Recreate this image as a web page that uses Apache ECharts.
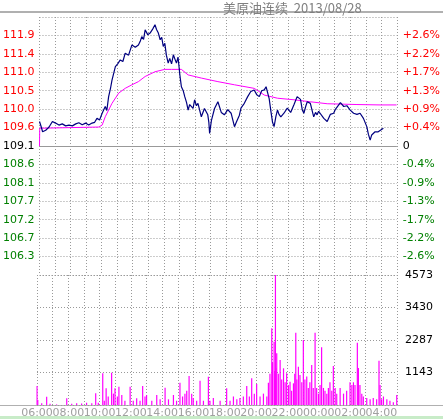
<!DOCTYPE html>
<html><head><meta charset="utf-8">
<script src="https://cdn.jsdelivr.net/npm/echarts@6/dist/echarts.min.js"></script>
<style>html,body{margin:0;padding:0;background:#fff}#c{width:443px;height:419px}</style>
</head><body><div id="c"></div>
<script>
const title = '美原油连续  2013/08/28';
const leftLabels = ['', '106.3','106.7','107.2','107.7','108.1','108.6','109.1','109.6','110.0','110.5','111.0','111.4','111.9',''];
const rightLabels = ['', '-2.6%','-2.2%','-1.7%','-1.3%','-0.9%','-0.4%','0','+0.4%','+0.9%','+1.3%','+1.7%','+2.2%','+2.6%',''];
const volLabels = ['', '1143','2287','3430','4573'];
const timeLabels = ['06:00','08:00','10:00','12:00','14:00','16:00','18:00','20:00','22:00','00:00','02:00','04:00'];
const priceMinutes = [0,6,12,24,37,50,62,75,88,101,114,127,140,152,165,178,190,203,213,222,232,242,248,254,260,267,274,280,287,293,302,312,322,331,344,357,370,382,389,395,402,408,418,427,437,446,452,459,466,472,478,484,490,497,503,510,517,523,529,535,539,542,545,548,555,561,568,574,580,587,593,599,606,612,618,625,637,650,654,657,664,676,689,702,714,727,740,753,760,766,772,778,791,804,816,829,839,849,858,868,875,881,887,893,900,906,913,919,925,932,944,957,970,983,995,1008,1015,1021,1028,1034,1046,1059,1066,1072,1078,1085,1098,1111,1123,1136,1142,1149,1162,1175,1187,1200,1213,1226,1232,1238,1251,1264,1270,1277,1283,1289,1296,1302,1308,1315,1328,1341,1350,1360,1370,1379];
const priceValues = [109.72,109.60,109.46,109.50,109.58,109.72,109.68,109.63,109.66,109.61,109.63,109.61,109.66,109.69,109.64,109.68,109.63,109.68,109.70,109.80,109.76,109.93,109.88,110.10,110.00,110.35,110.55,110.77,110.95,111.11,111.18,111.28,111.24,111.45,111.40,111.66,111.60,111.66,111.75,111.87,111.80,112.04,111.92,111.96,112.06,112.17,112.05,111.96,111.79,111.85,111.62,111.70,111.40,111.20,111.32,111.18,111.41,111.30,111.20,111.35,111.10,110.90,110.75,110.60,110.50,110.35,110.20,110.01,110.15,110.18,110.05,110.27,110.12,110.18,110.02,109.84,110.05,109.89,109.70,109.42,109.75,110.05,110.22,109.95,109.89,110.02,109.93,109.59,109.70,109.68,109.88,110.06,110.18,110.35,110.48,110.52,110.40,110.35,110.50,110.52,110.60,110.65,110.30,110.01,109.70,109.59,109.85,110.01,109.90,109.84,109.93,110.06,109.95,110.15,110.35,110.28,110.01,109.93,110.10,110.22,110.18,109.84,109.95,109.89,109.98,109.93,109.80,109.72,109.90,109.93,110.02,110.06,110.20,110.10,110.12,110.01,109.93,109.90,109.90,109.93,109.80,109.59,109.40,109.25,109.38,109.42,109.46,109.43,109.46,109.50,109.55];
const avgMinutes = [0,1,229,242,254,280,306,331,357,382,408,446,484,510,548,574,625,689,753,829,855,868,919,983,1046,1111,1226,1315,1379];
const avgValues = [109.10,109.55,109.58,109.63,109.84,110.18,110.44,110.56,110.65,110.73,110.86,110.98,111.04,111.04,111.04,110.90,110.82,110.73,110.65,110.56,110.45,110.39,110.31,110.27,110.22,110.17,110.15,110.14,110.14];
const volMinutes = [0,3,18,37,50,75,114,133,152,171,190,210,225,235,252,258,265,273,286,293,299,308,314,325,337,357,369,382,395,405,414,420,440,459,472,491,504,523,535,548,558,567,574,583,593,599,612,625,638,657,663,676,702,727,740,753,766,778,791,804,814,823,833,842,855,868,881,887,893,900,903,909,911,914,916,919,925,932,938,945,951,957,964,970,976,983,988,992,996,1002,1008,1015,1021,1027,1034,1040,1046,1053,1059,1066,1072,1079,1085,1091,1098,1104,1111,1117,1123,1130,1136,1143,1149,1162,1175,1187,1200,1207,1213,1219,1228,1232,1238,1245,1251,1264,1277,1289,1302,1311,1315,1321,1328,1341,1353,1366,1379];
const volValues = [670,176,60,290,40,20,235,40,60,50,80,60,410,80,1114,150,586,300,1138,400,586,300,645,352,150,645,150,235,150,668,300,352,150,352,200,610,200,352,150,786,300,400,500,1020,400,250,150,856,150,997,150,250,150,586,150,300,200,250,300,668,300,938,400,739,300,400,300,786,1100,2698,1500,2229,1200,4573,1300,1818,1100,1584,900,1290,800,1114,700,821,500,762,1100,2545,900,1349,1056,800,2287,900,1000,600,800,1408,600,2545,600,400,700,2029,600,500,400,600,800,500,1372,600,400,600,400,500,800,700,800,700,2193,1300,700,400,300,250,200,250,200,1560,700,200,300,200,150,100,352];

const pMin = 105.8333, pInt = 0.466667, pMax = pMin + 14 * pInt;
const vMax = 4573, vInt = 4573 / 4;
function idx(v, min, intv) { return Math.round((v - min) / intv); }
function pairs(xs, ys) { return xs.map((x, i) => [x, ys[i]]); }
function leftColor(i) { return i > 7 ? '#ff0000' : (i === 7 ? '#000' : '#008000'); }
const font = 'DejaVu Sans';
const chart = echarts.init(document.getElementById('c'));
const xCommon = {
  type: 'value', min: 0, max: 1380, interval: 60,
  axisLine: { show: false }, axisTick: { show: false },
  splitLine: { show: true, lineStyle: { color: '#999', type: [1, 2], width: 1 } }
};
chart.setOption({
  animation: false,
  backgroundColor: '#fff',
  title: { text: title, left: 218, top: -3, textStyle: { color: '#808080', fontSize: 13, fontWeight: 'normal', fontFamily: 'Noto Sans CJK SC' } },
  graphic: [
    { type: 'rect', shape: { x: 0, y: 11, width: 443, height: 2 }, style: { fill: '#b0b0b0' } },
    { type: 'rect', shape: { x: 0, y: 405, width: 443, height: 1 }, style: { fill: '#b0b0b0' } },
    { type: 'rect', shape: { x: 0, y: 416, width: 443, height: 3 }, style: { fill: '#c8ecc8' } }
  ],
  grid: [
    { left: 37, right: 46, top: 17, height: 258 },
    { left: 37, right: 46, top: 275, height: 130 }
  ],
  xAxis: [
    Object.assign({ gridIndex: 0, axisLabel: { show: false } }, xCommon),
    Object.assign({ gridIndex: 1, axisLabel: { show: true, color: '#a0a0a0', fontFamily: font, fontSize: 11, margin: 3,
      formatter: v => (v % 120 === 0 && v < 1380) ? timeLabels[v / 120] : '' } }, xCommon)
  ],
  yAxis: [
    { gridIndex: 0, type: 'value', min: pMin, max: pMax, interval: pInt, position: 'left',
      axisLine: { show: false }, axisTick: { show: false },
      splitLine: { show: true, lineStyle: { color: '#999', type: [1, 2] } },
      axisLabel: { fontFamily: font, fontSize: 11, margin: 5,
        formatter: v => leftLabels[idx(v, pMin, pInt)] || '',
        color: v => leftColor(idx(v, pMin, pInt)) } },
    { gridIndex: 0, type: 'value', min: pMin, max: pMax, interval: pInt, position: 'right',
      axisLine: { show: false }, axisTick: { show: false }, splitLine: { show: false },
      axisLabel: { fontFamily: font, fontSize: 11, margin: 6, align: 'left',
        formatter: v => rightLabels[idx(v, pMin, pInt)] || '',
        color: v => leftColor(idx(v, pMin, pInt)) } },
    { gridIndex: 1, type: 'value', min: 0, max: vMax, interval: vInt, position: 'right',
      axisLine: { show: false }, axisTick: { show: false },
      splitLine: { show: true, lineStyle: { color: '#999', type: [1, 2] } },
      axisLabel: { fontFamily: font, fontSize: 11, color: '#000', margin: 8,
        formatter: v => volLabels[idx(v, 0, vInt)] || '' } }
  ],
  series: [
    { type: 'line', xAxisIndex: 0, yAxisIndex: 0, data: pairs(avgMinutes, avgValues), showSymbol: false,
      lineStyle: { color: '#ff00ff', width: 1 },
      markLine: { silent: true, symbol: 'none', label: { show: false }, lineStyle: { color: '#999', type: 'solid', width: 1 }, data: [{ yAxis: 109.1 }] } },
    { type: 'line', xAxisIndex: 0, yAxisIndex: 0, data: pairs(priceMinutes, priceValues), showSymbol: false,
      lineStyle: { color: '#000080', width: 1.2 } },
    { type: 'bar', xAxisIndex: 1, yAxisIndex: 2, data: pairs(volMinutes, volValues), barWidth: 1.2,
      itemStyle: { color: '#ff00ff' } }
  ]
});
</script></body></html>
